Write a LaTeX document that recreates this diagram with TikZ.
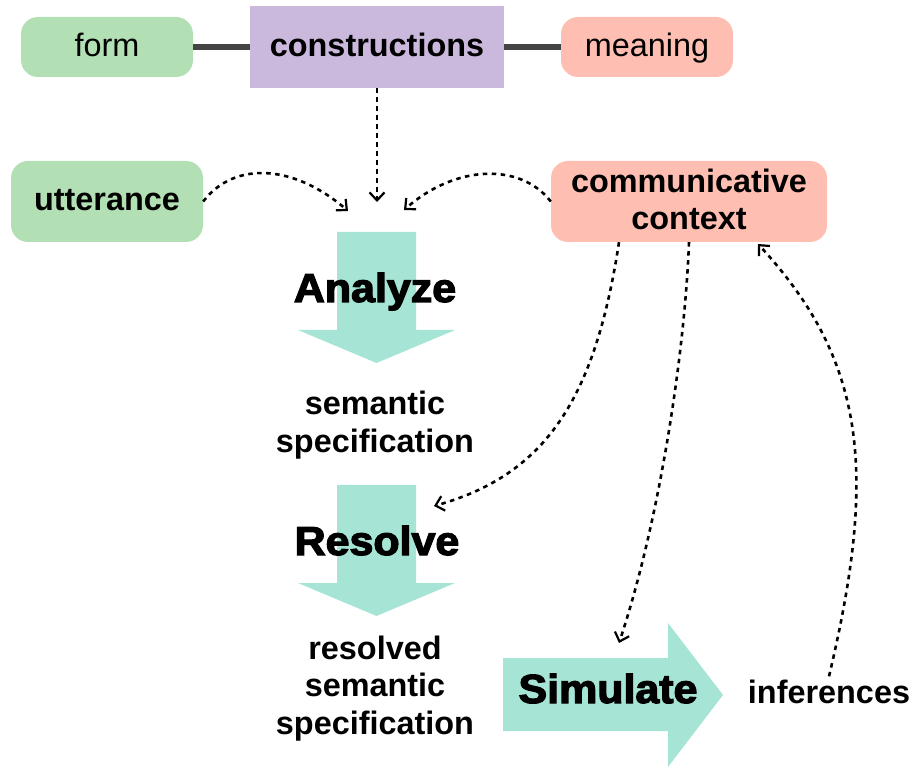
\documentclass[tikz,border=0pt]{standalone}
\usepackage{fontspec}
\setmainfont{Liberation Sans}
\newfontfamily\heavyfont[FakeBold=3]{Liberation Sans Bold}
\usetikzlibrary{arrows.meta,calc}

\definecolor{formgreen}{RGB}{179,223,181}
\definecolor{cxnpurple}{RGB}{203,185,221}
\definecolor{meansalmon}{RGB}{255,190,178}
\definecolor{flowteal}{RGB}{166,228,213}
\definecolor{linkgray}{RGB}{68,68,68}

\tikzset{
  txt/.style={font=\fontsize{32.4}{37.5}\selectfont, inner sep=0pt},
  pill/.style={txt, rounded corners=17pt, text height=23pt, text depth=4pt},
  stage/.style={inner sep=0pt, xscale=1.06, font=\heavyfont\fontsize{40.5}{44}\selectfont},
  link/.style={draw=linkgray, line width=6pt},
  flow/.style={draw=black, line width=2.6pt, dash pattern=on 4.5pt off 4.5pt,
    -{Straight Barb[length=8pt,width=15pt,line width=2.2pt]}},
  bigarrow/.style={fill=flowteal, draw=none}
}

\begin{document}
\begin{tikzpicture}[x=1pt,y=-1pt]
\useasboundingbox (0,0) rectangle (914,767);

% top row: form -- constructions -- meaning
\node[pill, fill=formgreen, minimum width=172pt, minimum height=60pt] (form) at (107,47) {form};
\node[txt, fill=cxnpurple, minimum width=254pt, minimum height=82pt, text height=23pt, text depth=4pt] (cxn) at (377,47) {\bfseries constructions};
\node[pill, fill=meansalmon, minimum width=172pt, minimum height=60pt] (meaning) at (647,47) {meaning};
\draw[link] (form.east) -- (cxn.west);
\draw[link] (cxn.east) -- (meaning.west);

% inputs
\node[pill, fill=formgreen, minimum width=192pt, minimum height=81pt] (utt) at (107,201.5) {\bfseries utterance};
\node[txt, fill=meansalmon, rounded corners=17pt, minimum width=276pt, minimum height=81pt, align=center] (ctx) at (689,201.5)
  {\bfseries communicative\\\bfseries context\rule[-4pt]{0pt}{0pt}};

% processing stages
\fill[bigarrow] (337,232) -- (416,232) -- (416,330) -- (455,330) -- (376.5,363) -- (298,330) -- (337,330) -- cycle;
\fill[bigarrow] (337,485) -- (416,485) -- (416,583) -- (455,583) -- (376.5,616) -- (298,583) -- (337,583) -- cycle;
\fill[bigarrow] (503,658) -- (668,658) -- (668,623) -- (723,695) -- (668,767) -- (668,731) -- (503,731) -- cycle;

\node[stage, anchor=base] (analyze) at (375,302) {Analyze};
\node[stage, anchor=base] (resolve) at (377,555) {Resolve};
\node[stage, anchor=base] (simulate) at (608,703) {Simulate};

% intermediate results
\node[txt, align=center] (semspec) at (375,425) {\bfseries semantic\\\bfseries specification};
\node[txt, align=center] (ressem) at (375,688.5) {\bfseries resolved\\\bfseries semantic\\\bfseries specification};
\node[txt, anchor=base, inner sep=3pt] (inf) at (829,703) {\bfseries inferences};

% arrow ends
\coordinate (aIn) at (377,202);
\coordinate (uIn) at (348,211);
\coordinate (cIn) at (404,210);
\coordinate (rIn) at (434,506);
\coordinate (sIn) at (619,643);
\coordinate (back) at (758,244);

% dotted dependencies
\draw[flow] (cxn.south) -- (aIn);
\draw[flow] (utt.east) .. controls (235,160) and (295,165) .. (uIn);
\draw[flow] (ctx.west) .. controls (520,162) and (455,165) .. (cIn);
\draw[flow] ($(ctx.south)+(-70,0)$) .. controls (595,400) and (545,475) .. (rIn);
\draw[flow] (ctx.south) .. controls (685,350) and (660,520) .. (sIn);
\draw[flow] (inf.north) .. controls (878,470) and (865,360) .. (back);
\end{tikzpicture}
\end{document}
